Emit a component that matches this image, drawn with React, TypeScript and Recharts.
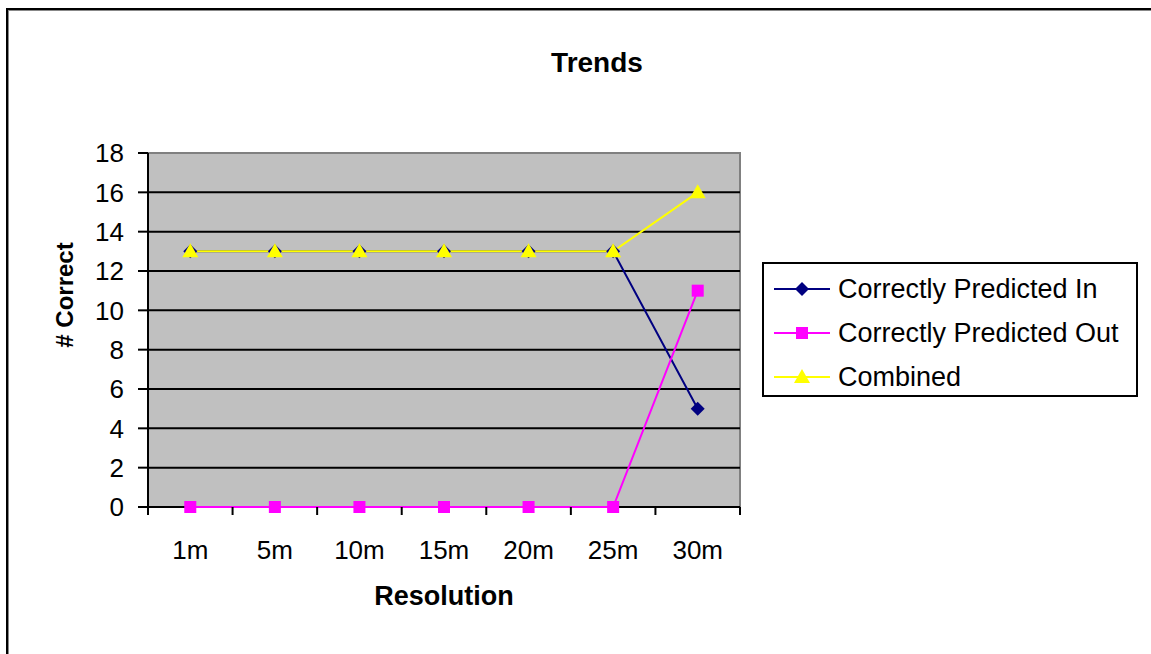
import React from "react";
import { LineChart, Line, XAxis, YAxis, ReferenceLine, ReferenceArea } from "recharts";

const categories = ["1m", "5m", "10m", "15m", "20m", "25m", "30m"];
const predictedIn = [13, 13, 13, 13, 13, 13, 5];
const predictedOut = [0, 0, 0, 0, 0, 0, 11];
const combined = [13, 13, 13, 13, 13, 13, 16];
const yTicks = [0, 2, 4, 6, 8, 10, 12, 14, 16, 18];
const gridValues = [0, 2, 4, 6, 8, 10, 12, 14, 16];

const FONT = "'Liberation Sans', Arial, sans-serif";

const series = [
  { key: "in", name: "Correctly Predicted In", color: "#000080", shape: "diamond" },
  { key: "out", name: "Correctly Predicted Out", color: "#FF00FF", shape: "square" },
  { key: "combined", name: "Combined", color: "#FFFF00", shape: "triangle" },
];

const data = categories.map((c, i) => ({
  pos: i + 0.5,
  name: c,
  in: predictedIn[i],
  out: predictedOut[i],
  combined: combined[i],
}));

// tick positions: integers = category boundaries (tick marks), halves = labels
const xTicks: number[] = [];
for (let i = 0; i <= categories.length * 2; i++) xTicks.push(i / 2);

function Marker({ cx, cy, shape, color }: any) {
  if (cx == null || cy == null) return null;
  if (shape === "diamond") {
    const r = 7;
    return <polygon points={`${cx},${cy - r} ${cx + r},${cy} ${cx},${cy + r} ${cx - r},${cy}`} fill={color} />;
  }
  if (shape === "square") {
    return <rect x={cx - 6} y={cy - 6} width={12} height={12} fill={color} />;
  }
  return <polygon points={`${cx},${cy - 8} ${cx + 8},${cy + 6} ${cx - 8},${cy + 6}`} fill={color} />;
}

function CatTick(props: any) {
  const { x, y, payload } = props;
  const v = payload.value as number;
  if (Number.isInteger(v)) {
    return <line x1={x} x2={x} y1={y} y2={y + 8} stroke="#000" strokeWidth={2} />;
  }
  const label = categories[Math.floor(v)];
  return (
    <text x={x} y={y + 52} textAnchor="middle" fontSize={26} fontFamily={FONT} fill="#000">
      {label}
    </text>
  );
}

function LegendBox() {
  return (
    <div
      style={{
        position: "absolute",
        left: 762,
        top: 262,
        width: 372,
        height: 131,
        border: "2px solid #000",
        background: "#fff",
        fontFamily: FONT,
        fontSize: 27,
      }}
    >
      {series.map((s, i) => (
        <div key={s.key} style={{ position: "absolute", left: 8, top: 5 + i * 44, height: 40, display: "flex", alignItems: "center" }}>
          <svg width={60} height={20}>
            <line x1={2} x2={58} y1={10} y2={10} stroke={s.color} strokeWidth={2} />
            <Marker cx={30} cy={10} shape={s.shape} color={s.color} />
          </svg>
          <span style={{ marginLeft: 6, whiteSpace: "nowrap" }}>{s.name}</span>
        </div>
      ))}
    </div>
  );
}

export default function App() {
  return (
    <div style={{ position: "absolute", left: 0, top: 0, width: 1151, height: 654, background: "#fff", overflow: "hidden" }}>
      <div
        style={{
          position: "absolute",
          left: 6,
          top: 8,
          width: 1160,
          height: 660,
          borderTop: "2px solid #000",
          borderLeft: "2px solid #000",
          boxShadow: "inset 1px 1px 0 #888",
        }}
      />
      <div
        style={{
          position: "absolute",
          left: 497,
          top: 49,
          width: 200,
          textAlign: "center",
          fontFamily: FONT,
          fontWeight: "bold",
          fontSize: 28,
          lineHeight: "28px",
        }}
      >
        Trends
      </div>
      <div
        style={{
          position: "absolute",
          left: 344,
          top: 583,
          width: 200,
          textAlign: "center",
          fontFamily: FONT,
          fontWeight: "bold",
          fontSize: 27,
          lineHeight: "27px",
        }}
      >
        Resolution
      </div>
      <div
        style={{
          position: "absolute",
          left: -35,
          top: 280,
          width: 200,
          height: 30,
          lineHeight: "30px",
          textAlign: "center",
          fontFamily: FONT,
          fontWeight: "bold",
          fontSize: 24,
          transform: "rotate(-90deg)",
        }}
      >
        # Correct
      </div>
      <div style={{ position: "absolute", left: 0, top: 0 }}>
        <LineChart width={1151} height={654} data={data} margin={{ top: 153, right: 411, bottom: 107, left: 88 }}>
          <ReferenceArea x1={0} x2={7} y1={0} y2={18} fill="#C0C0C0" fillOpacity={1} stroke="#808080" strokeWidth={2} />
          {gridValues.map((g) => (
            <ReferenceLine key={g} y={g} stroke="#000" strokeWidth={2} />
          ))}
          <XAxis
            dataKey="pos"
            type="number"
            domain={[0, 7]}
            ticks={xTicks}
            interval={0}
            tickLine={false}
            tickSize={0}
            tickMargin={0}
            height={40}
            axisLine={false}
            tick={<CatTick />}
          />
          <YAxis
            type="number"
            domain={[0, 18]}
            ticks={yTicks}
            interval={0}
            width={60}
            tickSize={10}
            tickMargin={14}
            axisLine={{ stroke: "#000", strokeWidth: 2 }}
            tickLine={{ stroke: "#000", strokeWidth: 2 }}
            tick={{ fill: "#000", fontSize: 26, fontFamily: FONT }}
          />
          {series.map((s) => (
            <Line
              key={s.key}
              dataKey={s.key}
              name={s.name}
              type="linear"
              stroke={s.color}
              strokeWidth={2}
              isAnimationActive={false}
              dot={(p: any) => <Marker key={`${s.key}-${p.index}`} cx={p.cx} cy={p.cy} shape={s.shape} color={s.color} />}
              activeDot={false}
            />
          ))}
        </LineChart>
      </div>
      <LegendBox />
    </div>
  );
}
